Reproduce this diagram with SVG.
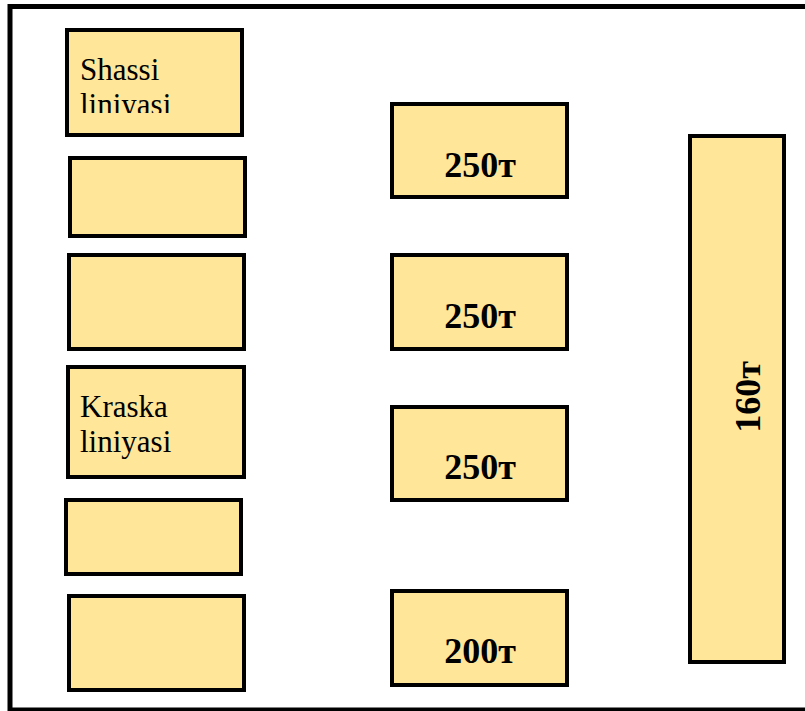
<svg xmlns="http://www.w3.org/2000/svg" width="805" height="711" viewBox="0 0 805 711">
<style>
.box{fill:#FFE699;stroke:#000;stroke-width:4}
.lbl{font-family:"Liberation Serif","DejaVu Serif",serif;font-size:31px;fill:#000}
.ton{font-family:"Liberation Serif","DejaVu Serif",serif;font-size:36px;font-weight:bold;fill:#000;text-anchor:middle}
</style>
<defs>
<clipPath id="c1"><rect x="67" y="30" width="175" height="83"/></clipPath>
</defs>
<rect x="0" y="0" width="805" height="711" fill="#fff"/>
<rect x="10" y="6.5" width="900" height="703.5" fill="none" stroke="#000" stroke-width="5"/>
<g id="connectors"></g>
<g id="shassi">
<rect class="box" x="67" y="30" width="175" height="105"/>
<g clip-path="url(#c1)"><text class="lbl" x="80" y="80">Shassi</text><text class="lbl" x="80" y="115">liniyasi</text></g>
</g>
<g id="box2"><rect class="box" x="70" y="158" width="175" height="78"/></g>
<g id="box3"><rect class="box" x="69" y="255" width="175" height="94"/></g>
<g id="kraska">
<rect class="box" x="68" y="367" width="176" height="110"/>
<text class="lbl" x="80" y="417">Kraska</text><text class="lbl" x="80" y="452">liniyasi</text>
</g>
<g id="box5"><rect class="box" x="66" y="500" width="175" height="74"/></g>
<g id="box6"><rect class="box" x="69" y="596" width="175" height="94"/></g>
<g id="p250a"><rect class="box" x="392" y="104" width="175" height="93"/><text class="ton" x="480" y="177">250т</text></g>
<g id="p250b"><rect class="box" x="392" y="255" width="175" height="94"/><text class="ton" x="480" y="328">250т</text></g>
<g id="p250c"><rect class="box" x="392" y="407" width="175" height="93"/><text class="ton" x="480" y="479">250т</text></g>
<g id="p200"><rect class="box" x="392" y="591" width="175" height="94"/><text class="ton" x="480" y="663">200т</text></g>
<g id="p160"><rect class="box" x="690" y="136" width="94" height="526"/><text class="ton" transform="translate(760 397) rotate(-90)" x="0" y="0">160т</text></g>
</svg>
